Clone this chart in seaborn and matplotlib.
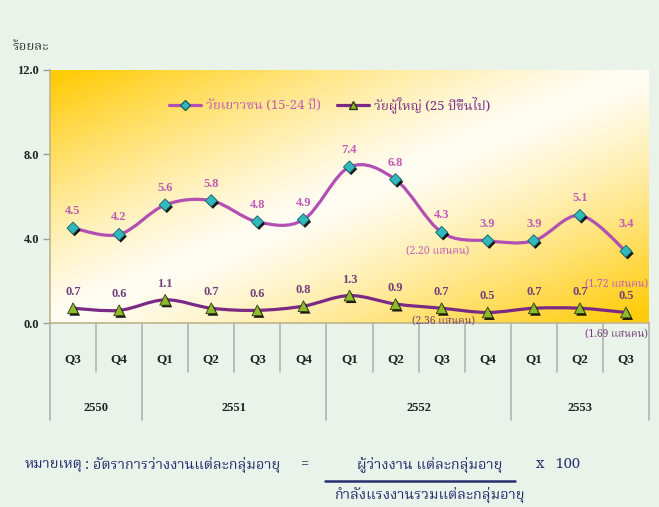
import numpy as np
import pandas as pd
import matplotlib
matplotlib.use("Agg")
import matplotlib.pyplot as plt
import seaborn as sns
from matplotlib import font_manager as fm
from matplotlib.ft2font import FT2Font
from matplotlib.path import Path
from matplotlib.patches import PathPatch
from matplotlib.lines import Line2D
import matplotlib.patheffects as pe

# ---------------- data ----------------
quarters = ["Q3", "Q4", "Q1", "Q2", "Q3", "Q4", "Q1", "Q2", "Q3", "Q4", "Q1", "Q2", "Q3"]
years = ["2550", "2551", "2552", "2553"]
year_spans = [2, 4, 4, 3]
youth = [4.5, 4.2, 5.6, 5.8, 4.8, 4.9, 7.4, 6.8, 4.3, 3.9, 3.9, 5.1, 3.4]
adult = [0.7, 0.6, 1.1, 0.7, 0.6, 0.8, 1.3, 0.9, 0.7, 0.5, 0.7, 0.7, 0.5]
youth_name = "วัยเยาวชน (15-24 ปี)"
adult_name = "วัยผู้ใหญ่ (25 ปีขึ้นไป)"
y_ticks = [0.0, 4.0, 8.0, 12.0]
y_label = "ร้อยละ"
notes = [(8, youth, "(2.20 แสนคน)"), (12, youth, "(1.72 แสนคน)"),
         (8, adult, "(2.36 แสนคน)"), (12, adult, "(1.69 แสนคน)")]

# ---------------- fonts ----------------
def find_thai():
    prefs = []
    for f in fm.fontManager.ttflist:
        try:
            cm = FT2Font(f.fname).get_charmap()
        except Exception:
            continue
        if 0x0E01 in cm and 0x0E49 in cm and 0x0E38 in cm:
            prefs.append(f.name)
    order = ["Noto Serif Thai", "Noto Sans Thai", "Loma", "Garuda", "Norasi",
             "Kinnari", "Sarabun", "TH Sarabun New", "Waree", "Laksaman"]
    for o in order:
        if o in prefs:
            return o
    return prefs[0] if prefs else "DejaVu Sans"

THAI = find_thai()
SERIF = "Liberation Serif"
thai_fam = [THAI, SERIF, "DejaVu Sans"]

sns.set_theme(style="white")
plt.rcParams["font.family"] = [SERIF, THAI, "DejaVu Sans"]

BG = "#EAF3EA"
YOUTH_LINE = "#B24FB2"
YOUTH_TXT = "#C25CB8"
ADULT_LINE = "#7A2A85"
ADULT_TXT = "#74407C"
NAVY = "#26306E"

fig = plt.figure(figsize=(6.59, 5.07), dpi=100, facecolor=BG)
W, H = 659, 507
L, R, T, B = 50, 649, 70, 323
ax = fig.add_axes([L / W, 1 - B / H, (R - L) / W, (B - T) / H])
n = len(quarters)
x = np.arange(n)

# gradient background (yellow at top-left and bottom-right corners)
gx, gy = np.meshgrid(np.linspace(0, 1, 300), np.linspace(0, 1, 200))
d = np.abs(gx + gy - 1.0)
w = np.clip(d * 1.05, 0, 1) ** 1.25
c0 = np.array([1.0, 0.993, 0.96])
c1 = np.array([1.0, 0.80, 0.04])
img = c0[None, None, :] * (1 - w[..., None]) + c1[None, None, :] * w[..., None]
ax.imshow(img, extent=[-0.5, n - 0.5, 0, 12], aspect="auto", zorder=0, origin="upper")
ax.set_xlim(-0.5, n - 0.5)
ax.set_ylim(0, 12)

def smooth_path(xs, ys):
    pts = np.column_stack([xs, ys]).astype(float)
    verts = [pts[0]]
    codes = [Path.MOVETO]
    m = len(pts)
    for i in range(m - 1):
        p0 = pts[i - 1] if i > 0 else pts[i]
        p1 = pts[i]
        p2 = pts[i + 1]
        p3 = pts[i + 2] if i + 2 < m else pts[i + 1]
        c1_ = p1 + (p2 - p0) / 6.0
        c2_ = p2 - (p3 - p1) / 6.0
        verts += [c1_, c2_, p2]
        codes += [Path.CURVE4] * 3
    return Path(verts, codes)

for vals, col in [(youth, YOUTH_LINE), (adult, ADULT_LINE)]:
    ax.add_patch(PathPatch(smooth_path(x, vals), facecolor="none", edgecolor=col,
                           lw=2.3, zorder=3, capstyle="round"))

df = pd.DataFrame({"x": np.concatenate([x, x]),
                   "y": youth + adult,
                   "s": [youth_name] * n + [adult_name] * n})
sns.scatterplot(data=df[df.s == youth_name], x="x", y="y", marker="D", s=38,
                color="#2FB9BC", edgecolor="#1E5F63", linewidth=0.6, ax=ax, zorder=5, legend=False)
sns.scatterplot(data=df[df.s == adult_name], x="x", y="y", marker="^", s=60,
                color="#8DBB2C", edgecolor="#2F3A10", linewidth=0.6, ax=ax, zorder=5, legend=False)
for coll in ax.collections:
    coll.set_path_effects([pe.SimplePatchShadow(offset=(1.2, -1.5), shadow_rgbFace="black", alpha=0.9),
                           pe.Normal()])

# value labels
for i, v in enumerate(youth):
    off = 27 if i == n - 1 else 17
    ax.annotate(f"{v:.1f}", (x[i], v), xytext=(0, off), textcoords="offset pixels",
                ha="center", va="center", color=YOUTH_TXT, fontsize=9, fontweight="bold",
                family=SERIF, zorder=6)
for i, v in enumerate(adult):
    ax.annotate(f"{v:.1f}", (x[i], v), xytext=(0, 16), textcoords="offset pixels",
                ha="center", va="center", color=ADULT_TXT, fontsize=9, fontweight="bold",
                family=SERIF, zorder=6)

note_off = {0: ((-4, -19), "center"), 1: ((22, -33), "right"),
            2: ((2, -13), "center"), 3: ((22, -22), "right")}
for k, (i, vals, txt) in enumerate(notes):
    col = YOUTH_TXT if vals is youth else ADULT_TXT
    off, ha = note_off[k]
    ax.annotate(txt, (x[i], vals[i]), xytext=off, textcoords="offset pixels",
                ha=ha, va="center", color=col, fontsize=7.5, fontweight="bold",
                family=thai_fam, zorder=7, annotation_clip=False)

# axes styling
ax.set_xticks([])
ax.set_yticks(y_ticks)
ax.set_yticklabels([f"{t:.1f}" for t in y_ticks], fontsize=9, fontweight="bold", color="#222222")
ax.tick_params(axis="y", length=5, width=1, color="#9A9A9A", direction="out", left=True, pad=3)
ax.set_xlabel("")
ax.set_ylabel("")
for s in ["top", "right"]:
    ax.spines[s].set_visible(False)
for s in ["left", "bottom"]:
    ax.spines[s].set_color("#BFB48C")
    ax.spines[s].set_linewidth(1.2)

# category table below
tr = ax.get_xaxis_transform()
hq = (B - 372) / (B - T)
hy = (B - 420) / (B - T)
yq = (B - 359) / (B - T)
yy = (B - 408) / (B - T)
bounds = np.cumsum([0] + year_spans)
for b in range(n + 1):
    bottom = hy if b in bounds else hq
    ax.plot([b - 0.5, b - 0.5], [0, bottom], transform=tr, color="#A8AEAE", lw=1.1,
            clip_on=False, zorder=1)
for i, q in enumerate(quarters):
    ax.text(x[i], yq, q, transform=tr, ha="center", va="center", fontsize=9.5,
            fontweight="bold", color="#222222")
for j, yr in enumerate(years):
    ax.text((bounds[j] + bounds[j + 1]) / 2 - 0.5, yy, yr, transform=tr, ha="center",
            va="center", fontsize=9, fontweight="bold", color="#222222")

# legend
handles = [Line2D([], [], color=YOUTH_LINE, lw=2.3, marker="D", markersize=5,
                  markerfacecolor="#2FB9BC", markeredgecolor="#1E5F63"),
           Line2D([], [], color=ADULT_LINE, lw=2.3, marker="^", markersize=6,
                  markerfacecolor="#8DBB2C", markeredgecolor="#2F3A10")]
leg = ax.legend(handles, [youth_name, adult_name], loc="center", bbox_to_anchor=(0.467, 0.862),
                ncol=2, frameon=False, handlelength=2.4, columnspacing=1.2, handletextpad=0.4,
                prop={"family": thai_fam, "size": 9.5, "weight": "bold"})
for t, c in zip(leg.get_texts(), [YOUTH_TXT, ADULT_LINE]):
    t.set_color(c)

# y label
fig.text(31 / W, 1 - 46 / H, y_label, ha="center", va="center", fontsize=9.5,
         fontweight="bold", color="#333333", family=thai_fam)

# bottom note
fig.text(25 / W, 1 - 465 / H, "หมายเหตุ", ha="left", va="center", fontsize=10.5,
         fontweight="bold", color=NAVY, family=thai_fam)
fig.text(85 / W, 1 - 465 / H, ": อัตราการว่างงานแต่ละกลุ่มอายุ", ha="left", va="center",
         fontsize=10.5, color=NAVY, family=thai_fam)
fig.text(304 / W, 1 - 465 / H, "=", ha="center", va="center", fontsize=10.5, color=NAVY,
         family=thai_fam)
fig.text(430 / W, 1 - 465 / H, "ผู้ว่างงาน แต่ละกลุ่มอายุ", ha="center", va="center",
         fontsize=10.5, color=NAVY, family=thai_fam)
fig.text(558 / W, 1 - 465 / H, "x   100", ha="center", va="center", fontsize=10.5,
         color=NAVY, family=thai_fam)
fig.add_artist(Line2D([325 / W, 515 / W], [1 - 481 / H, 1 - 481 / H], color=NAVY, lw=1.8,
                      transform=fig.transFigure))
fig.text(430 / W, 1 - 495 / H, "กำลังแรงงานรวมแต่ละกลุ่มอายุ", ha="center", va="center",
         fontsize=10.5, color=NAVY, family=thai_fam)

fig.savefig("out.png", dpi=100, facecolor=BG)
